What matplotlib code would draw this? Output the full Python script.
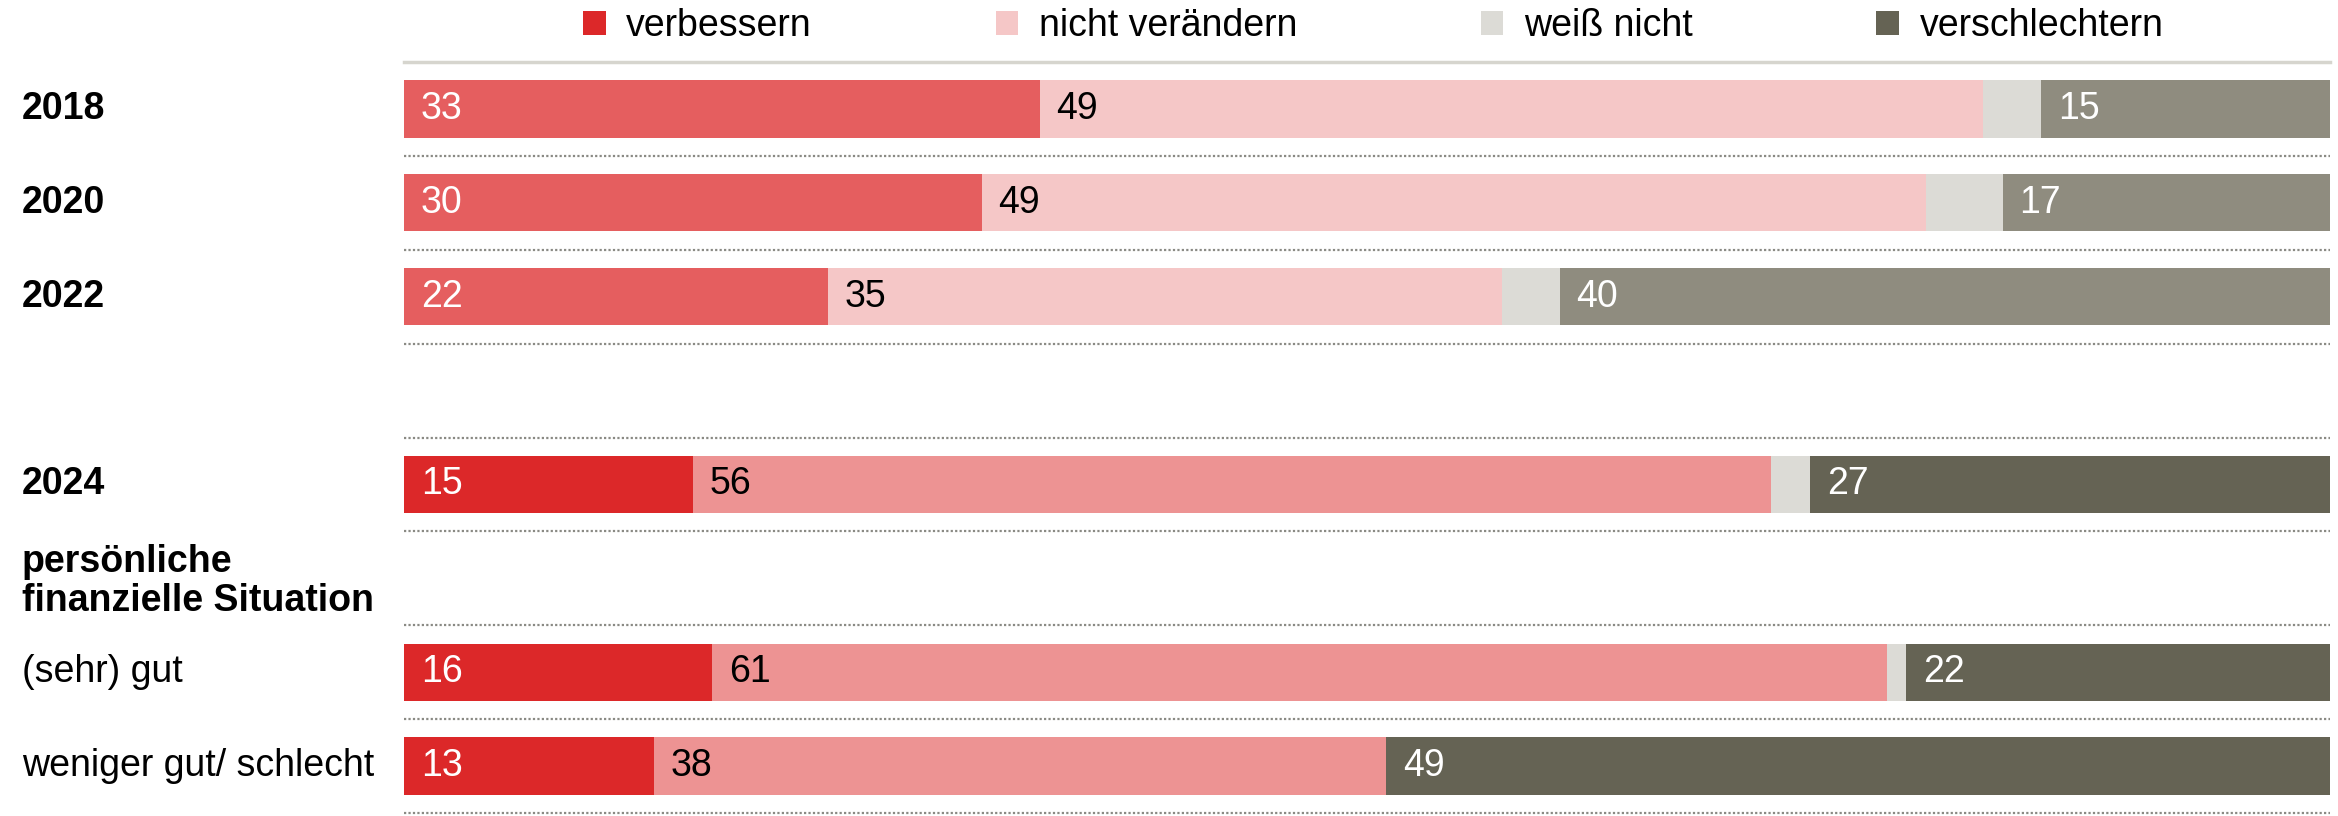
import matplotlib.pyplot as plt
import matplotlib.transforms as mtransforms
from matplotlib.patches import Patch

plt.rcParams['font.family'] = ['Liberation Sans', 'DejaVu Sans']

# data
categories = ['2018', '2020', '2022', '2024', '(sehr) gut', 'weniger gut/ schlecht']
verbessern = [33, 30, 22, 15, 16, 13]
nicht_veraendern = [49, 49, 35, 56, 61, 38]
weiss_nicht = [3, 4, 3, 2, 1, 0]
verschlechtern = [15, 17, 40, 27, 22, 49]
series_names = ['verbessern', 'nicht verändern', 'weiß nicht', 'verschlechtern']
group_title = 'persönliche\nfinanzielle Situation'

# layout: row slots (slot 3 empty, slot 5 holds the group title)
row_pos = [0, 1, 2, 4, 6, 7]
bold_rows = [True, True, True, True, False, False]
is_new = [False, False, False, True, True, True]

old_cols = ['#e55e5f', '#f5c7c7', '#dcdbd6', '#8f8c7f']
new_cols = ['#dc2829', '#ed9393', '#dcdbd6', '#656354']
legend_cols = ['#dc2829', '#f5c7c7', '#dcdbd6', '#656354']
label_cols = ['white', 'black', None, 'white']

font_s = 27

fig = plt.figure(figsize=(23.38, 8.16), dpi=100)
ax = fig.add_axes([404 / 2338, 3 / 816, (2330 - 404) / 2338, (813 - 62) / 816])

series = [verbessern, nicht_veraendern, weiss_nicht, verschlechtern]
lefts = [0] * len(categories)
for k, vals in enumerate(series):
    cols = [new_cols[k] if n else old_cols[k] for n in is_new]
    ax.barh(row_pos, vals, left=lefts, height=0.61, color=cols, linewidth=0)
    if label_cols[k] is not None:
        for y, l, v in zip(row_pos, lefts, vals):
            if v > 0:
                ax.annotate(str(v), xy=(l, y), xytext=(12, 0), textcoords='offset points',
                            ha='left', va='center', color=label_cols[k], fontsize=font_s)
    lefts = [a + b for a, b in zip(lefts, vals)]

ax.set_xlim(0, 100)
ax.set_ylim(7.5, -0.5)
ax.axis('off')

# separators
ax.axhline(-0.5, color='#d6d5ce', lw=2.5, clip_on=False)
for y in [0.5, 1.5, 2.5, 3.5, 4.5, 5.5, 6.5, 7.5]:
    ax.axhline(y, color='#8a8a84', lw=1.6, ls=(0, (1, 1)), clip_on=False)

# row labels
trans = mtransforms.blended_transform_factory(fig.transFigure, ax.transData)
for y, name, b in zip(row_pos, categories, bold_rows):
    ax.text(22 / 2338, y, name, transform=trans, ha='left', va='center',
            fontsize=font_s, fontweight='bold' if b else 'normal')
ax.text(22 / 2338, 5.03, group_title, transform=trans, ha='left', va='center',
        fontsize=font_s, fontweight='bold', linespacing=1.1)

# legend
handles = [Patch(facecolor=c, edgecolor='none') for c in legend_cols]
fig.legend(handles, series_names, loc='center left', bbox_to_anchor=(583 / 2338, 1 - 26 / 816),
           ncol=4, frameon=False, fontsize=font_s, handlelength=0.6, handleheight=0.6,
           handletextpad=0.55, columnspacing=4.9, borderpad=0, borderaxespad=0)

fig.savefig('out.png', dpi=100)
